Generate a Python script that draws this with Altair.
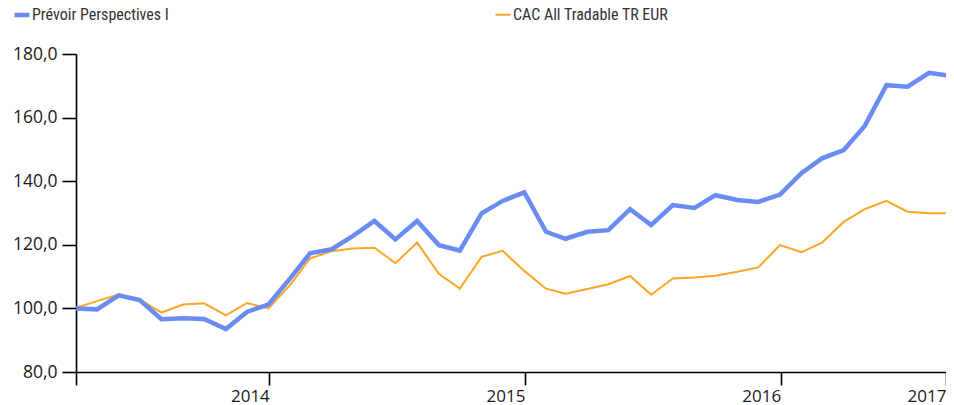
import altair as alt
import pandas as pd

months = [
    "2013-03-31", "2013-04-30", "2013-05-31", "2013-06-30", "2013-07-31", "2013-08-31",
    "2013-09-30", "2013-10-31", "2013-11-30", "2013-12-31",
    "2014-01-31", "2014-02-28", "2014-03-31", "2014-04-30", "2014-05-31", "2014-06-30",
    "2014-07-31", "2014-08-31", "2014-09-30", "2014-10-31", "2014-11-30", "2014-12-31",
    "2015-01-31", "2015-02-28", "2015-03-31", "2015-04-30", "2015-05-31", "2015-06-30",
    "2015-07-31", "2015-08-31", "2015-09-30", "2015-10-31", "2015-11-30", "2015-12-31",
    "2016-01-31", "2016-02-29", "2016-03-31", "2016-04-30", "2016-05-31", "2016-06-30",
    "2016-07-31", "2016-08-31", "2016-09-30",
]

prevoir = [
    100.0, 99.7, 104.1, 102.6, 96.6, 96.9, 96.7, 93.5, 98.9, 101.3,
    109.5, 117.3, 118.6, 122.7, 127.5, 121.7, 127.5, 119.9, 118.2, 129.9, 133.8, 136.5,
    124.1, 121.9, 124.1, 124.6, 131.2, 126.2, 132.5, 131.6, 135.6, 134.1, 133.5, 135.8,
    142.6, 147.2, 149.8, 157.4, 170.2, 169.7, 174.1, 173.1, 186.0,
]

cac = [
    100.2, 102.3, 104.4, 102.8, 98.7, 101.2, 101.6, 97.8, 101.7, 100.0,
    107.5, 115.7, 118.0, 118.8, 119.1, 114.2, 120.7, 110.9, 106.2, 116.2, 118.1, 111.8,
    106.2, 104.6, 106.1, 107.6, 110.2, 104.3, 109.4, 109.7, 110.3, 111.5, 112.9, 119.9,
    117.7, 120.7, 127.2, 131.2, 133.8, 130.4, 129.9, 129.9, 132.8,
]

series_names = ["Prévoir Perspectives I", "CAC All Tradable TR EUR"]
series_colors = ["#6A8CF2", "#FFA526"]
series_widths = [4.5, 2.0]

x_domain = ["2013-03-31", "2016-08-24"]
x_tick_dates = ["2013-03-31", "2014-01-01", "2015-01-01", "2016-01-01", "2016-08-24"]
x_tick_labels = ["", "2014\u00a0", "2015\u00a0", "2016\u00a0", "2017"]
y_ticks = [80, 100, 120, 140, 160, 180]

rows = []
for name, vals in zip(series_names, [prevoir, cac]):
    for d, v in zip(months, vals):
        rows.append({"date": d, "series": name, "value": v})
df = pd.DataFrame(rows)


def dt(s):
    t = pd.Timestamp(s)
    return alt.DateTime(year=t.year, month=t.month, date=t.day, utc=True)


tick_ms = [int(pd.Timestamp(s).value // 10**6) for s in x_tick_dates]
label_expr = "[" + ",".join("'%s'" % l for l in x_tick_labels) + "][indexof([" + \
    ",".join(str(m) for m in tick_ms) + "], time(datum.value))]"

axis_font = "Open Sans"

x_enc = alt.X(
    "date:T",
    scale=alt.Scale(type="utc", domain=[dt(x_domain[0]), dt(x_domain[1])]),
    axis=alt.Axis(
        values=[dt(s) for s in x_tick_dates],
        labelExpr=label_expr,
        title=None,
        grid=False,
        domainColor="#000000",
        domainWidth=1.6,
        tickColor="#000000",
        tickWidth=1.6,
        tickSize=13,
        labelAlign="right",
        labelPadding=3,
        labelFont=axis_font,
        labelFontSize=17,
        labelColor="#1a1a1a",
        labelOverlap=False,
        labelBound=False,
    ),
)

y_enc = alt.Y(
    "value:Q",
    scale=alt.Scale(domain=[80, 180], nice=False, zero=False),
    axis=alt.Axis(
        values=y_ticks,
        labelExpr="replace(format(datum.value, '.1f'), '.', ',')",
        title=None,
        grid=False,
        domainColor="#000000",
        domainWidth=1.6,
        tickColor="#000000",
        tickWidth=1.6,
        tickSize=14,
        labelPadding=5,
        labelFont=axis_font,
        labelFontSize=17.5,
        labelColor="#1a1a1a",
    ),
)

legend = alt.Legend(
    title=None,
    orient="none",
    legendX=-64,
    legendY=-49,
    direction="horizontal",
    columns=2,
    columnPadding=322,
    symbolType="stroke",
    symbolSize=225,
    labelOffset=0,
    labelFont="Liberation Sans Narrow, Roboto Condensed, Roboto",
    labelFontSize=16,
    labelColor="#333333",
    labelLimit=400,
    padding=0,
)

color_enc = alt.Color(
    "series:N",
    scale=alt.Scale(domain=series_names, range=series_colors),
    legend=legend,
)
width_enc = alt.StrokeWidth(
    "series:N",
    scale=alt.Scale(domain=series_names, range=series_widths),
    legend=legend,
)

base = alt.Chart(df).mark_line(clip=True).encode(
    x=x_enc, y=y_enc, color=color_enc, strokeWidth=width_enc
)

orange = base.transform_filter(alt.datum.series == series_names[1])
blue = base.transform_filter(alt.datum.series == series_names[0])

chart = alt.layer(orange, blue).properties(
    width=870,
    height=318,
    padding={"left": 68, "top": 46, "right": 0, "bottom": 34},
    autosize=alt.AutoSizeParams(type="none"),
).configure_view(stroke=None)

chart.save("out.html", embed_options={"renderer": "svg", "actions": False})
